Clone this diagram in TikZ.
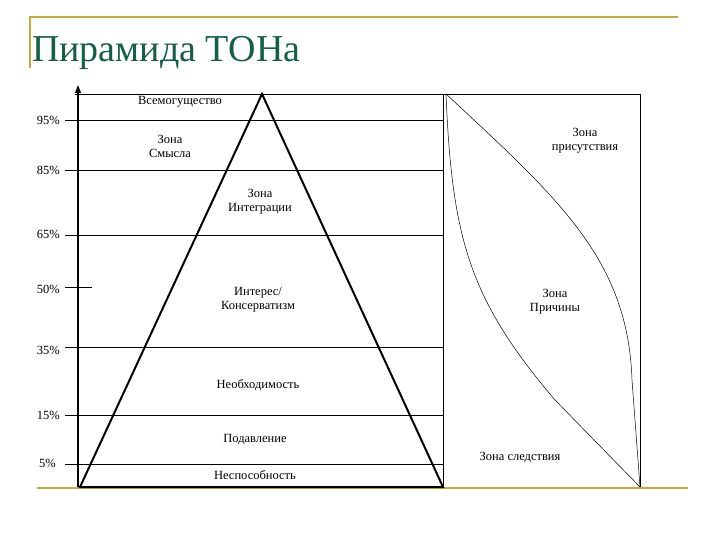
\documentclass[tikz,border=0pt]{standalone}
\usepackage{fontspec}
\setmainfont{Liberation Serif}
\usetikzlibrary{arrows.meta}
\definecolor{gold}{RGB}{200,170,60}
\definecolor{ttl}{RGB}{20,95,70}
\begin{document}
\begin{tikzpicture}[x=1pt,y=-1pt,
  lbl/.style={font=\fontsize{12.5}{14}\selectfont,align=center,inner sep=1pt},
  pct/.style={font=\fontsize{12.5}{14}\selectfont,inner sep=1pt},
  thin/.style={line width=0.6pt},
  thick2/.style={line width=2pt}]
\useasboundingbox (0,0) rectangle (720,540);
% gold frame lines
\draw[gold,line width=2pt] (30,68) coordinate (g1) -- (30,17) -- (678,17);
\draw[gold,line width=2.5pt] (37,488) -- (688,488);
\node[font=\fontsize{38}{40}\selectfont,text=ttl,anchor=base west,inner sep=0] (title) at (32,62) {Пирамида ТОНа};
% horizontal lines
\draw[thin] (75,94) -- (640,94);
\foreach \y in {120,170,235,347,415,464} \draw[thin] (65,\y) -- (443,\y);
\draw[thin] (65,287) -- (92,287);
% box
\draw[thin] (443,94) -- (443,487);
\draw[thin] (640,94) -- (640,487);
% curves
\draw[line width=0.5pt] (446,94) .. controls (452,240) and (470,300) .. (555,400) -- (640,487);
\draw[line width=0.5pt] (446,94) .. controls (560,200) and (628,260) .. (632,380) -- (640,487);
% axis
\draw[line width=2.2pt,-{Latex[length=9pt,width=7pt]}] (78,487) -- (78,84);
% pyramid
\coordinate (apex) at (262,94);
\coordinate (bl) at (80,487);
\coordinate (br) at (443,487);
\draw[thick2,line join=miter] (bl) -- (apex) -- (br) -- cycle;
% percentages
\node[pct,anchor=east] (p95) at (61,120) {95\%};
\node[pct,anchor=east] (p85) at (61,170) {85\%};
\node[pct,anchor=east] (p65) at (61,234) {65\%};
\node[pct,anchor=east] (p50) at (61,289) {50\%};
\node[pct,anchor=east] (p35) at (61,350) {35\%};
\node[pct,anchor=east] (p15) at (61,415) {15\%};
\node[pct,anchor=east] (p5) at (57,463) {5\%};
% labels
\node[lbl] (l1) at (180,102) {Всемогущество};
\node[lbl] (l2) at (170,146) {Зона\\Смысла};
\node[lbl] (l3) at (260,202) {Зона\\Интеграции};
\node[lbl] (l4) at (258,300) {Интерес/\\Консерватизм};
\node[lbl] (l5) at (258,385) {Необходимость};
\node[lbl] (l6) at (255,440) {Подавление};
\node[lbl] (l7) at (255,475) {Неспособность};
\node[lbl] (r1) at (585,141) {Зона\\присутствия};
\node[lbl] (r2) at (555,302) {Зона\\Причины};
\node[lbl] (r3) at (520,458) {Зона следствия};
\end{tikzpicture}
\end{document}
